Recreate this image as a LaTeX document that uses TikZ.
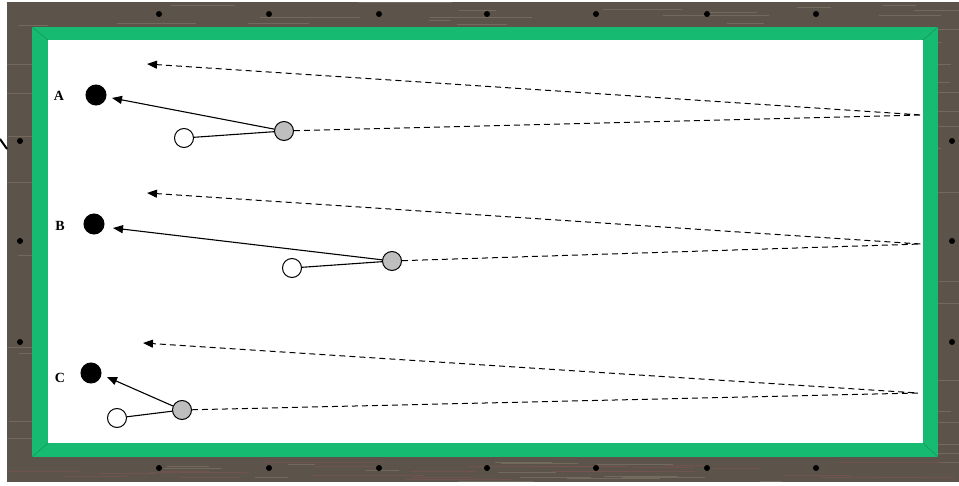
\documentclass[tikz,border=0pt]{standalone}
\usepackage{fontspec}
\setmainfont{Liberation Serif}
\usetikzlibrary{arrows.meta}

\definecolor{wood}{RGB}{92,83,74}
\definecolor{woodlight}{RGB}{132,120,106}
\definecolor{woodred}{RGB}{120,84,82}
\definecolor{cloth}{RGB}{22,186,112}
\definecolor{ballgray}{RGB}{190,190,190}

\tikzset{
  ball/.style={circle, draw=black, line width=1pt, minimum size=19pt, inner sep=0pt},
  objball/.style={ball, fill=black, minimum size=20pt},
  cueball/.style={ball, fill=white},
  hitball/.style={ball, fill=ballgray},
  cueline/.style={line width=1.1pt},
  shot/.style={line width=1.1pt, -{Triangle[length=10pt,width=8pt]}},
  bank/.style={line width=1pt, dash pattern=on 6pt off 4pt, -{Triangle[length=10pt,width=8pt]}},
  lbl/.style={font=\bfseries\fontsize{14}{16}\selectfont}
}

\begin{document}
\begin{tikzpicture}[x=1pt,y=-1pt]
    \useasboundingbox (0,0) rectangle (959,486);

    % Rail
    \begin{scope}
      \clip (7,2) rectangle (959,482);
      \fill[wood] (7,2) rectangle (959,482);
      \pgfmathsetseed{7}
      \foreach \k in {1,...,320} {
        \pgfmathsetmacro\gx{rnd*940}
        \pgfmathsetmacro\gy{2+rnd*480}
        \pgfmathsetmacro\gl{20+rnd*90}
        \draw[woodlight, opacity=0.6, line width=0.9pt] (\gx,\gy) -- ++(\gl,0);
      }
      \foreach \k in {1,...,25} {
        \pgfmathsetmacro\gx{rnd*940}
        \pgfmathsetmacro\gy{462+rnd*18}
        \pgfmathsetmacro\gl{30+rnd*90}
        \draw[woodred, opacity=0.7, line width=0.8pt] (\gx,\gy) -- ++(\gl,0);
      }
    \end{scope}
    \draw[line width=2pt] (0,139) -- (7,149);

    % Cushion and bed
    \fill[cloth] (32,27) rectangle (938,457);
    \fill[white] (48,40) rectangle (923,443);
    \draw[cloth!80!black, line width=0.5pt]
      (32,27) -- (48,40) (938,27) -- (923,40)
      (32,457) -- (48,443) (938,457) -- (923,443);

    % Diamonds
    \foreach \x in {159,269,379,487,596,707,816} {
      \fill (\x,14) circle (3pt);
      \fill (\x,468) circle (3pt);
    }
    \foreach \y in {141,241,342} {
      \fill (20,\y) circle (3pt);
      \fill (952,\y) circle (3pt);
    }

    % A
    \node[lbl] (labA) at (59,96) {A};
    \node[objball] (objA) at (96,95) {};
    \node[cueball] (cueA) at (184,138) {};
    \node[hitball] (hitA) at (284,131) {};
    \coordinate (tipA) at (112,98);
    \coordinate (railA) at (922,115);
    \coordinate (backA) at (147,64);
    \draw[cueline] (cueA) -- (hitA);
    \draw[shot] (hitA) -- (tipA);
    \draw[bank] (hitA) -- (railA) -- (backA);

    % B
    \node[lbl] (labB) at (60,226) {B};
    \node[objball] (objB) at (94,224) {};
    \node[cueball] (cueB) at (292,268) {};
    \node[hitball] (hitB) at (392,261) {};
    \coordinate (tipB) at (113,228);
    \coordinate (railB) at (921,244);
    \coordinate (backB) at (147,193);
    \draw[cueline] (cueB) -- (hitB);
    \draw[shot] (hitB) -- (tipB);
    \draw[bank] (hitB) -- (railB) -- (backB);

    % C
    \node[lbl] (labC) at (60,378) {C};
    \node[objball] (objC) at (91,373) {};
    \node[cueball] (cueC) at (117,418) {};
    \node[hitball] (hitC) at (182,410) {};
    \coordinate (tipC) at (107,377);
    \coordinate (railC) at (918,393);
    \coordinate (backC) at (143,343);
    \draw[cueline] (cueC) -- (hitC);
    \draw[shot] (hitC) -- (tipC);
    \draw[bank] (hitC) -- (railC) -- (backC);
\end{tikzpicture}
\end{document}
